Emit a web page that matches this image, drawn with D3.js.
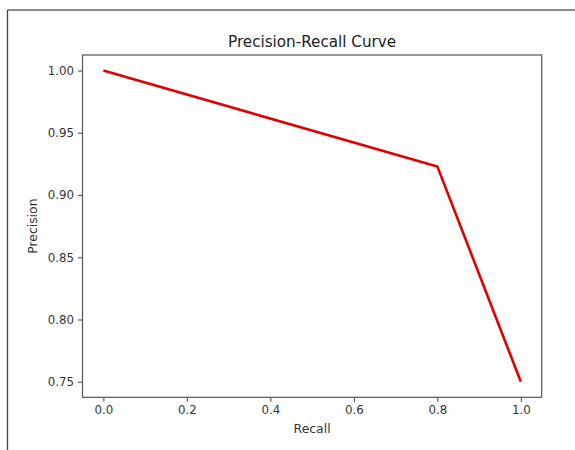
<!DOCTYPE html>
<html><head><meta charset="utf-8">
<script src="https://cdn.jsdelivr.net/npm/d3@7"></script>
<style>html,body{margin:0;padding:0;background:#fff;}svg{display:block;}</style>
</head><body>
<script>
const recall = [0.0, 0.8, 1.0];
const precision = [1.0, 0.923, 0.75];
const xTicks = [0.0, 0.2, 0.4, 0.6, 0.8, 1.0];
const yTicks = [0.75, 0.80, 0.85, 0.90, 0.95, 1.00];
const title = "Precision-Recall Curve";
const xLabel = "Recall";
const yLabel = "Precision";

const W = 575, H = 450;
const m = {left: 82.5, top: 55, right: 541.7, bottom: 397.3};
const font = "DejaVu Sans, sans-serif";

const svg = d3.select("body").append("svg").attr("width", W).attr("height", H);

// outer frame (top and left edges)
svg.append("line").attr("x1", 7.5).attr("x2", W).attr("y1", 10).attr("y2", 10)
  .attr("stroke", "#666").attr("stroke-width", 1.3);
svg.append("line").attr("x1", 7.5).attr("x2", 7.5).attr("y1", 10).attr("y2", H)
  .attr("stroke", "#444").attr("stroke-width", 1.3);

const x = d3.scaleLinear().domain([-0.05, 1.05]).range([m.left, m.right]);
const y = d3.scaleLinear().domain([0.7375, 1.0125]).range([m.bottom, m.top]);

const xAxis = svg.append("g").attr("transform", `translate(0,${m.bottom})`)
  .call(d3.axisBottom(x).tickValues(xTicks).tickFormat(d3.format(".1f")).tickSize(4.5).tickPadding(4));
const yAxis = svg.append("g").attr("transform", `translate(${m.left},0)`)
  .call(d3.axisLeft(y).tickValues(yTicks).tickFormat(d3.format(".2f")).tickSize(4.5).tickPadding(4));
[xAxis, yAxis].forEach(g => {
  g.select(".domain").remove();
  g.selectAll(".tick line").attr("stroke", "#444").attr("stroke-width", 1);
  g.selectAll(".tick text").attr("fill", "#333").style("font-family", font).style("font-size", "11.8px");
});

// spines
svg.append("rect").attr("x", m.left).attr("y", m.top)
  .attr("width", m.right - m.left).attr("height", m.bottom - m.top)
  .attr("fill", "none").attr("stroke", "#555").attr("stroke-width", 1.2);

const pts = recall.map((r, i) => [r, precision[i]]);
svg.append("path").datum(pts)
  .attr("d", d3.line().x(d => x(d[0])).y(d => y(d[1])))
  .attr("fill", "none").attr("stroke", "#e00000").attr("stroke-width", 2.6)
  .attr("stroke-linejoin", "round");

svg.append("text").attr("x", (m.left + m.right) / 2).attr("y", 46.5)
  .attr("text-anchor", "middle").attr("fill", "#222")
  .style("font-family", font).style("font-size", "15.2px").text(title);
svg.append("text").attr("x", (m.left + m.right) / 2).attr("y", 433)
  .attr("text-anchor", "middle").attr("fill", "#333")
  .style("font-family", font).style("font-size", "12.4px").text(xLabel);
svg.append("text").attr("transform", `translate(36.5,${(m.top + m.bottom) / 2}) rotate(-90)`)
  .attr("text-anchor", "middle").attr("fill", "#333")
  .style("font-family", font).style("font-size", "12.4px").text(yLabel);
</script>
</body></html>
